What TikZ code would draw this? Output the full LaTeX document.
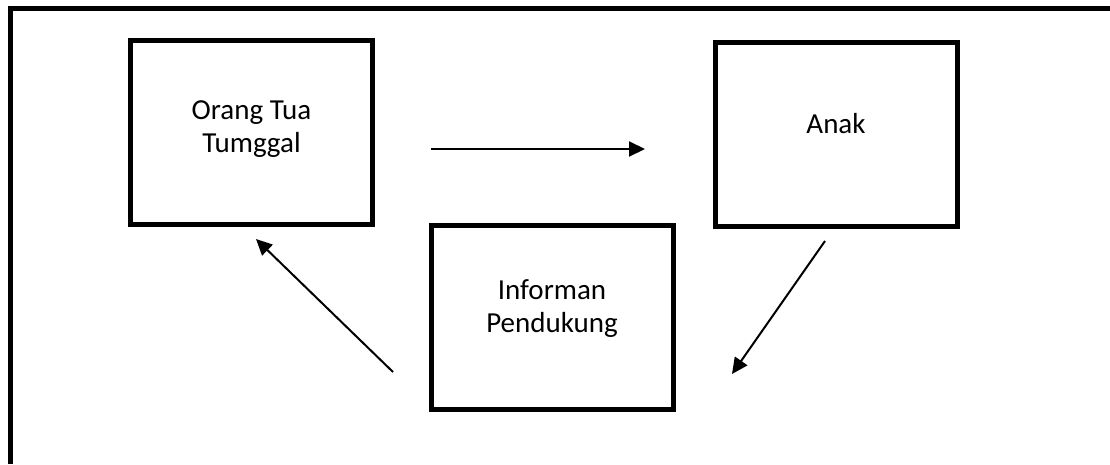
\documentclass[tikz,border=0pt]{standalone}
\usepackage{fontspec}
\setmainfont{Carlito}
\usetikzlibrary{positioning,arrows.meta}

\begin{document}
\begin{tikzpicture}[x=1pt, y=-1pt,
    box/.style={rectangle, draw, line width=5pt, minimum width=242pt, minimum height=184pt},
    boxtext/.style={align=center, anchor=base, font=\fontsize{29}{33}\selectfont},
    line/.style={draw, -{Triangle[length=16pt,width=15pt]}, line width=2pt}]

    \useasboundingbox (0,0) rectangle (1110,464);

    % Frame (only top and left edges show)
    \draw [line width=5pt] (10.5,464) -- (10.5,8.5) -- (1110,8.5);

    % Nodes
    \node [box] (orang) at (251.5,132.5) {};
    \node [box] (anak) at (836,134.5) {};
    \node [box] (informan) at (552,317) {};
    \node [boxtext, yshift=-19.5pt] (orangtext) at (orang.center) {Orang Tua\\Tumggal};
    \node [boxtext, yshift=1.5pt] (anaktext) at (anak.center) {Anak};
    \node [boxtext, yshift=-15pt] (informantext) at (informan.center) {Informan\\Pendukung};

    % Arrow ends
    \coordinate (orangout) at (431,149);
    \coordinate (anakin) at (645,149);
    \coordinate (anakout) at (825,241);
    \coordinate (informanin) at (732,374);
    \coordinate (informanout) at (393,372);
    \coordinate (orangin) at (256,239);

    % Paths
    \path [line] (orangout) -- (anakin);
    \path [line] (anakout) -- (informanin);
    \path [line] (informanout) -- (orangin);

\end{tikzpicture}
\end{document}
